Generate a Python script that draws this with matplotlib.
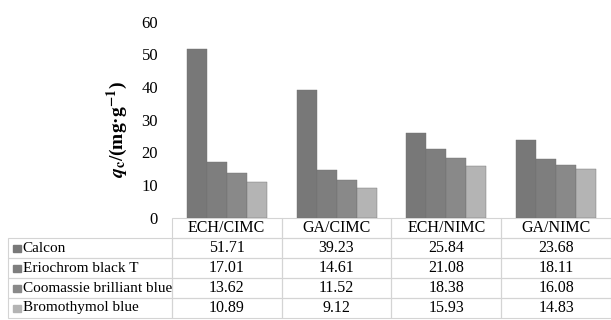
import matplotlib.pyplot as plt
from matplotlib.patches import Rectangle
import numpy as np

plt.rcParams['font.family'] = ['Liberation Serif', 'DejaVu Serif']
plt.rcParams['mathtext.fontset'] = 'stix'

groups = ['ECH/CIMC', 'GA/CIMC', 'ECH/NIMC', 'GA/NIMC']
dyes = ['Calcon', 'Eriochrom black T', 'Coomassie brilliant blue', 'Bromothymol blue']
values = [
    [51.71, 39.23, 25.84, 23.68],
    [17.01, 14.61, 21.08, 18.11],
    [13.62, 11.52, 18.38, 16.08],
    [10.89, 9.12, 15.93, 14.83],
]
colors = ['#787878', '#7e7e7e', '#898989', '#b4b4b4']

fig = plt.figure(figsize=(6.11, 3.2), dpi=100)
ax = fig.add_axes([172 / 611, 102 / 320, 439 / 611, 196.5 / 320])

x = np.arange(len(groups))
bw = 0.182
for i, (dye, vals) in enumerate(zip(dyes, values)):
    ax.bar(x - 1.5 * bw + i * bw, vals, width=bw, color=colors[i],
           edgecolor='#707070', linewidth=0.3)

ax.set_xlim(-0.5, 3.5)
ax.set_ylim(0, 60)
ax.set_yticks(range(0, 61, 10))
ax.set_xticks([])
ax.tick_params(axis='y', length=0, pad=10, labelsize=12)
for s in ax.spines.values():
    s.set_visible(False)

ax.set_ylabel(r'$\boldsymbol{q}_{\mathbf{c}}$/(mg·g$^{\mathbf{-1}}$)',
              fontsize=14, fontweight='bold')
ax.yaxis.set_label_coords(-0.095, 0.45)

# data table under the bars
ax_h = 196.5
tab_h = 100 / ax_h
x0 = -164 / 439
cell_text = [[''] + groups] + [[d] + ['%.2f' % v for v in vals] for d, vals in zip(dyes, values)]
tbl = ax.table(cellText=cell_text, colWidths=[164] + [110] * 4,
               cellLoc='center', bbox=[x0, -tab_h, 1 - x0, tab_h])
tbl.auto_set_font_size(False)
tbl.set_fontsize(11.5)
for (r, c), cell in tbl.get_celld().items():
    cell.set_edgecolor('#d4d4d4')
    cell.set_facecolor('none')
    cell.set_linewidth(0.8)
    if c == 0:
        cell.set_text_props(ha='left', fontsize=11)
        cell.PAD = 0.09
    if r == 0 and c == 0:
        cell.visible_edges = ''

# little colour keys in front of the row labels
for k in range(len(dyes)):
    yc = -(20 + 20 * k + 10) / ax_h
    ax.add_patch(Rectangle((x0 + 5 / 439, yc - 3.5 / ax_h), 8 / 439, 7 / ax_h,
                           transform=ax.transAxes, color=colors[k], clip_on=False))

fig.savefig('out.png', dpi=100)
